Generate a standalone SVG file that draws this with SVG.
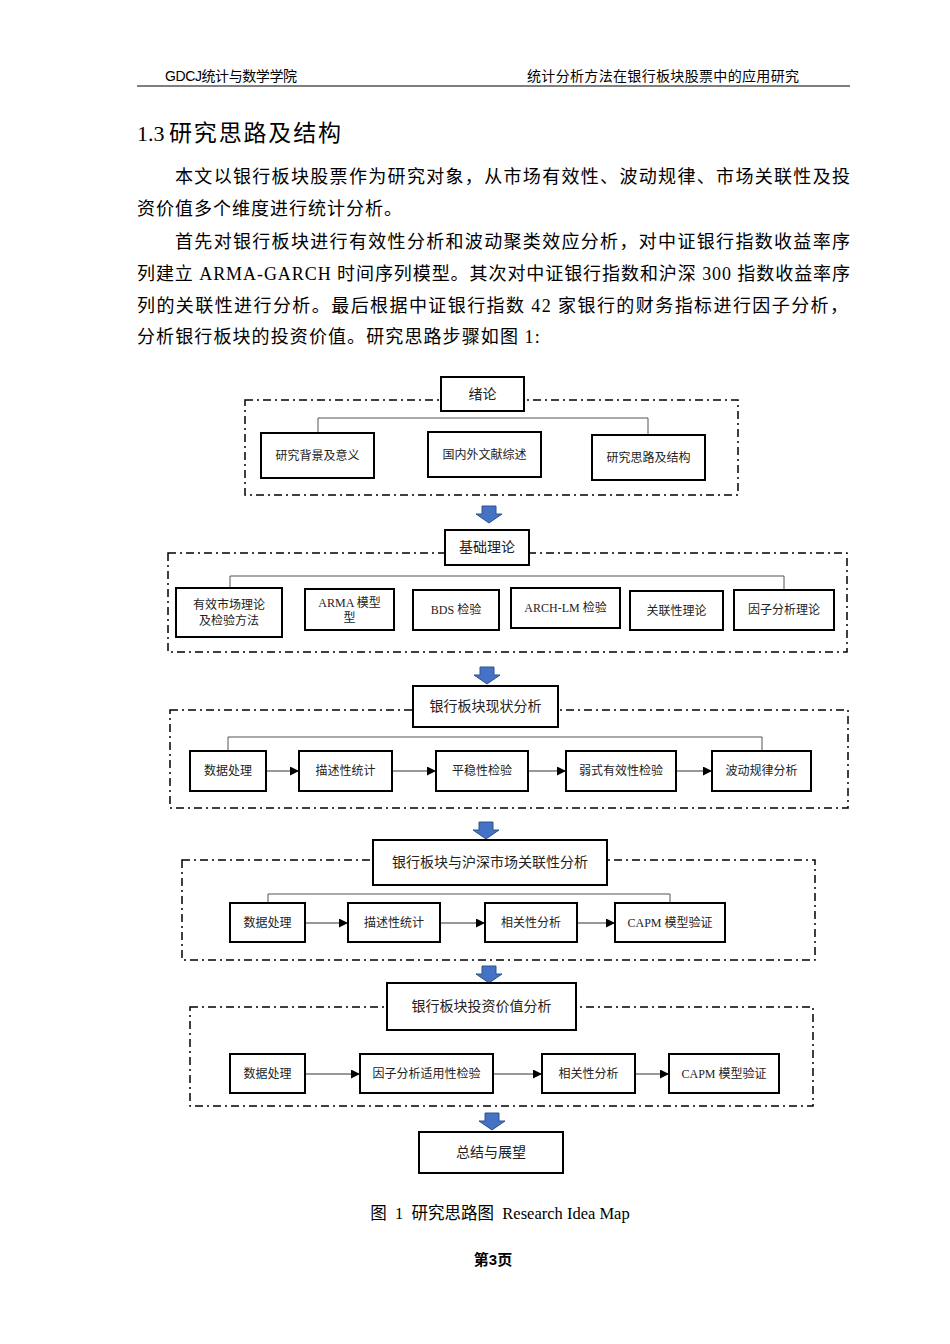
<svg xmlns="http://www.w3.org/2000/svg" xmlns:xlink="http://www.w3.org/1999/xlink" width="950" height="1344" viewBox="0 0 950 1344">
<style>
.hdr{font-family:"Liberation Sans","Noto Sans CJK SC",sans-serif;font-size:14px;fill:#000}
.body{font-family:"Liberation Serif","Noto Sans CJK SC",serif;font-size:18px;fill:#000}
.h1{font-family:"Liberation Sans","Noto Sans CJK SC",sans-serif;font-size:23px;fill:#000}
.h1n{font-family:"Liberation Serif",serif;font-size:22px;fill:#000}
.sec{fill:#fff;stroke:#000;stroke-width:2}
.box{fill:#fff;stroke:#000;stroke-width:2}
.dash{fill:none;stroke:#000;stroke-width:1.5;stroke-dasharray:8 4 2 4}
.st{font-family:"Liberation Serif","Noto Sans CJK SC",serif;font-size:14px;fill:#222;text-anchor:middle}
.bt{font-family:"Liberation Serif","Noto Sans CJK SC",serif;font-size:12px;fill:#222;text-anchor:middle}
.tree{fill:none;stroke:#555;stroke-width:1}
.flow{fill:none;stroke:#333;stroke-width:1.2;marker-end:url(#tri)}
.cap{font-family:"Liberation Serif","Noto Sans CJK SC",serif;font-size:16.5px;fill:#000;text-anchor:middle}
.pg{font-family:"Liberation Sans","Noto Sans CJK SC",sans-serif;font-size:15px;font-weight:bold;fill:#000;text-anchor:middle}
</style>
<defs>
<marker id="tri" viewBox="0 0 10 10" refX="10" refY="5" markerWidth="9" markerHeight="9" markerUnits="userSpaceOnUse" orient="auto">
<path d="M0,0 L10,5 L0,10 Z" fill="#000"/>
</marker>
<path id="barrow" d="M-7,0 H7 V8 H13 L0,17 L-13,8 H-7 Z" fill="#4472C4" stroke="#2F528F" stroke-width="1"/>
</defs>
<rect width="950" height="1344" fill="#fff"/>

<!-- header -->
<g id="header">
<text class="hdr" x="165" y="81" textLength="132">GDCJ统计与数学学院</text>
<text class="hdr" x="527" y="81" textLength="272">统计分析方法在银行板块股票中的应用研究</text>
<line x1="137" y1="86" x2="850" y2="86" stroke="#000" stroke-width="1.2"/>
</g>

<g id="heading">
<text class="h1n" x="137" y="141">1.3</text>
<text class="h1" x="169" y="141" textLength="172" lengthAdjust="spacing">研究思路及结构</text>
</g>

<g id="paragraph">
<text class="body" x="175" y="183" textLength="675" lengthAdjust="spacing">本文以银行板块股票作为研究对象，从市场有效性、波动规律、市场关联性及投</text>
<text class="body" x="137" y="215" letter-spacing="1">资价值多个维度进行统计分析。</text>
<text class="body" x="175" y="248" textLength="675" lengthAdjust="spacing">首先对银行板块进行有效性分析和波动聚类效应分析，对中证银行指数收益率序</text>
<text class="body" x="137" y="280" textLength="713" lengthAdjust="spacing">列建立 ARMA-GARCH 时间序列模型。其次对中证银行指数和沪深 300 指数收益率序</text>
<text class="body" x="137" y="312" textLength="711" lengthAdjust="spacing">列的关联性进行分析。最后根据中证银行指数 42 家银行的财务指标进行因子分析，</text>
<text class="body" x="137" y="343" letter-spacing="1.1">分析银行板块的投资价值。研究思路步骤如图 1:</text>
</g>

<!-- dashed frames -->
<g id="frames">
<rect class="dash" x="245" y="400" width="493" height="95"/>
<rect class="dash" x="168" y="553" width="679" height="99"/>
<rect class="dash" x="170" y="710" width="678" height="98"/>
<rect class="dash" x="182" y="860" width="633" height="100"/>
<rect class="dash" x="190" y="1007" width="623" height="99"/>
</g>

<!-- connectors -->
<g id="connectors">
<path class="tree" d="M318,433 V418 H648 V435"/>
<path class="tree" d="M230,588 V576 H784 V590"/>
<path class="tree" d="M228,751 V737 H762 V751"/>
<path class="tree" d="M268,903 V894 H670 V903"/>
<line class="flow" x1="266" y1="771" x2="299" y2="771"/>
<line class="flow" x1="392" y1="771" x2="436" y2="771"/>
<line class="flow" x1="528" y1="771" x2="566" y2="771"/>
<line class="flow" x1="676" y1="771" x2="712" y2="771"/>
<line class="flow" x1="305" y1="923" x2="348" y2="923"/>
<line class="flow" x1="440" y1="923" x2="485" y2="923"/>
<line class="flow" x1="577" y1="923" x2="615" y2="923"/>
<line class="flow" x1="305" y1="1074" x2="360" y2="1074"/>
<line class="flow" x1="493" y1="1074" x2="542" y2="1074"/>
<line class="flow" x1="635" y1="1074" x2="669" y2="1074"/>
<use xlink:href="#barrow" x="489" y="506"/>
<use xlink:href="#barrow" x="487" y="667"/>
<use xlink:href="#barrow" x="486" y="822"/>
<use xlink:href="#barrow" x="489" y="966"/>
<use xlink:href="#barrow" x="492" y="1113"/>
</g>

<!-- section 1 -->
<g id="n-xulun"><rect class="sec" x="441" y="377" width="83" height="34"/><text class="st" x="482.5" y="399">绪论</text></g>
<g id="n-bg"><rect class="box" x="261" y="433" width="113" height="45"/><text class="bt" x="317.5" y="460">研究背景及意义</text></g>
<g id="n-lit"><rect class="box" x="428" y="432" width="113" height="45"/><text class="bt" x="484.5" y="459">国内外文献综述</text></g>
<g id="n-idea"><rect class="box" x="592" y="435" width="113" height="45"/><text class="bt" x="648.5" y="462">研究思路及结构</text></g>

<!-- section 2 -->
<g id="n-theory"><rect class="sec" x="445" y="530" width="84" height="35"/><text class="st" x="487" y="552">基础理论</text></g>
<g id="n-emh"><rect class="box" x="176" y="588" width="106" height="49"/><text class="bt" x="229" y="609">有效市场理论</text><text class="bt" x="229" y="625">及检验方法</text></g>
<g id="n-arma"><rect class="box" x="305" y="589" width="89" height="41"/><text class="bt" x="349.5" y="607">ARMA 模型</text><text class="bt" x="349.5" y="622">型</text></g>
<g id="n-bds"><rect class="box" x="413" y="590" width="86" height="40"/><text class="bt" x="456" y="614">BDS 检验</text></g>
<g id="n-arch"><rect class="box" x="511" y="588" width="109" height="40"/><text class="bt" x="565.5" y="612">ARCH-LM 检验</text></g>
<g id="n-corr"><rect class="box" x="630" y="591" width="93" height="39"/><text class="bt" x="676.5" y="615">关联性理论</text></g>
<g id="n-factor"><rect class="box" x="734" y="590" width="100" height="40"/><text class="bt" x="784" y="614">因子分析理论</text></g>

<!-- section 3 -->
<g id="n-status"><rect class="sec" x="413" y="686" width="145" height="41"/><text class="st" x="485.5" y="711">银行板块现状分析</text></g>
<g id="n-s3a"><rect class="box" x="190" y="751" width="76" height="40"/><text class="bt" x="228" y="775">数据处理</text></g>
<g id="n-s3b"><rect class="box" x="299" y="751" width="93" height="40"/><text class="bt" x="345.5" y="775">描述性统计</text></g>
<g id="n-s3c"><rect class="box" x="436" y="751" width="92" height="40"/><text class="bt" x="482" y="775">平稳性检验</text></g>
<g id="n-s3d"><rect class="box" x="566" y="751" width="110" height="40"/><text class="bt" x="621" y="775">弱式有效性检验</text></g>
<g id="n-s3e"><rect class="box" x="712" y="751" width="99" height="40"/><text class="bt" x="761.5" y="775">波动规律分析</text></g>

<!-- section 4 -->
<g id="n-market"><rect class="sec" x="373" y="840" width="234" height="45"/><text class="st" x="490" y="867">银行板块与沪深市场关联性分析</text></g>
<g id="n-s4a"><rect class="box" x="230" y="903" width="75" height="39"/><text class="bt" x="267.5" y="927">数据处理</text></g>
<g id="n-s4b"><rect class="box" x="348" y="903" width="92" height="39"/><text class="bt" x="394" y="927">描述性统计</text></g>
<g id="n-s4c"><rect class="box" x="485" y="903" width="92" height="39"/><text class="bt" x="531" y="927">相关性分析</text></g>
<g id="n-s4d"><rect class="box" x="615" y="903" width="110" height="39"/><text class="bt" x="670" y="927">CAPM 模型验证</text></g>

<!-- section 5 -->
<g id="n-invest"><rect class="sec" x="387" y="983" width="189" height="47"/><text class="st" x="481.5" y="1011">银行板块投资价值分析</text></g>
<g id="n-s5a"><rect class="box" x="230" y="1054" width="75" height="39"/><text class="bt" x="267.5" y="1078">数据处理</text></g>
<g id="n-s5b"><rect class="box" x="360" y="1054" width="133" height="39"/><text class="bt" x="426.5" y="1078">因子分析适用性检验</text></g>
<g id="n-s5c"><rect class="box" x="542" y="1054" width="93" height="39"/><text class="bt" x="588.5" y="1078">相关性分析</text></g>
<g id="n-s5d"><rect class="box" x="669" y="1054" width="110" height="39"/><text class="bt" x="724" y="1078">CAPM 模型验证</text></g>

<!-- section 6 -->
<g id="n-summary"><rect class="sec" x="419" y="1132" width="144" height="41"/><text class="st" x="491" y="1157">总结与展望</text></g>

<g id="caption">
<text class="cap" x="500" y="1219" xml:space="preserve">图  1  研究思路图  Research Idea Map</text>
<text class="pg" x="493" y="1265">第3页</text>
</g>
</svg>
